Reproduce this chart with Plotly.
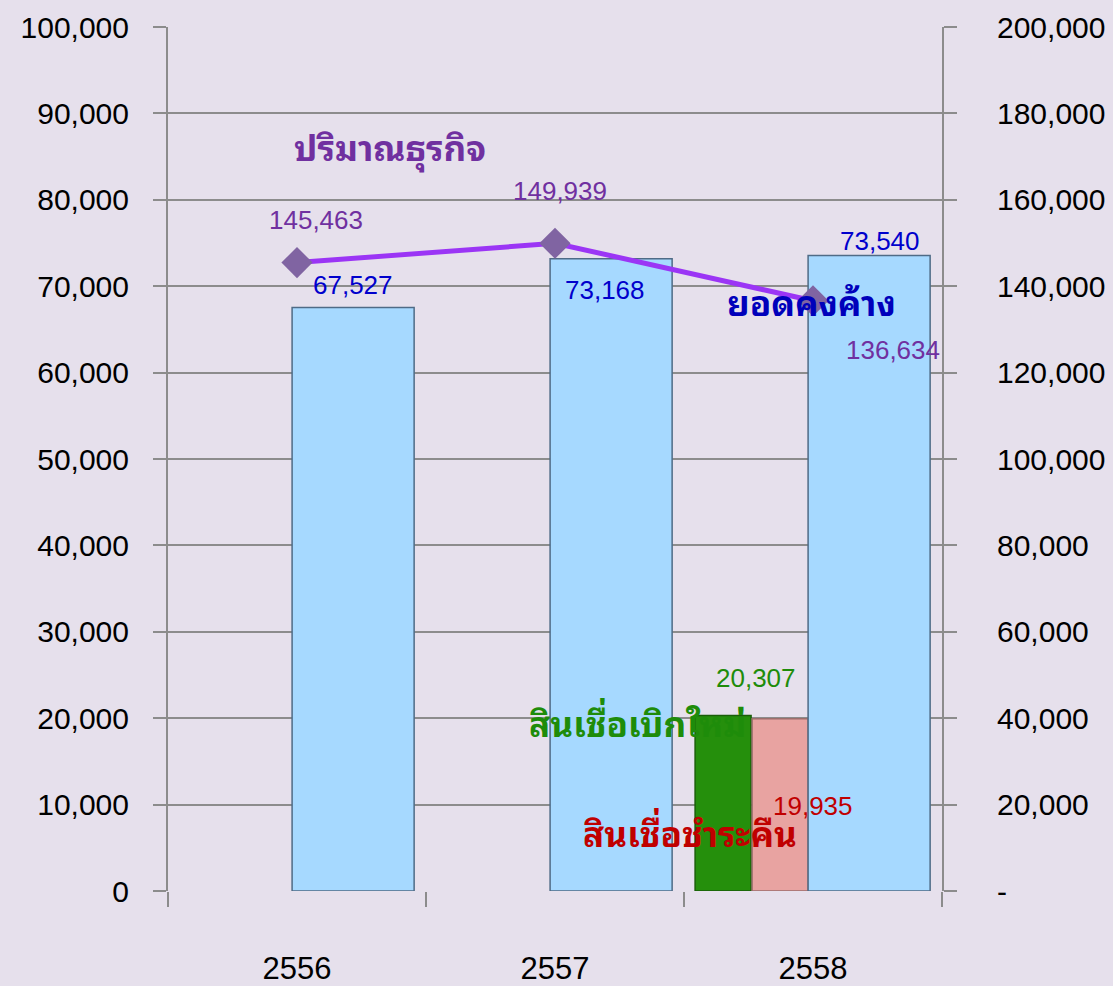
import plotly.graph_objects as go

years = ["2556", "2557", "2558"]
outstanding = [67527, 73168, 73540]          # ยอดคงค้าง (left axis)
new_loans_year = ["2558"]
new_loans = [20307]                          # สินเชื่อเบิกใหม่
repay = [19935]                              # สินเชื่อชำระคืน
volume = [145463, 149939, 136634]            # ปริมาณธุรกิจ (right axis)

left_ticks = list(range(0, 100001, 10000))
right_ticks = list(range(0, 200001, 20000))
right_text = ["-"] + [f"{v:,}" for v in right_ticks[1:]]

BG = "#E6E0EC"
GRID = "#8C8C8C"
FONT = "Liberation Sans, Arial, Noto Sans, sans-serif"
THAI = "Noto Sans Thai Looped, Loma, Garuda, Noto Sans Thai, Tahoma, sans-serif"

fig = go.Figure()

fig.add_trace(go.Bar(x=new_loans_year, y=new_loans, offset=-0.457, width=0.217,
                     marker=dict(color="#258F0C", line=dict(color="#1A5E08", width=1.5)),
                     yaxis="y", hoverinfo="skip"))
fig.add_trace(go.Bar(x=new_loans_year, y=repay, offset=-0.236, width=0.217,
                     marker=dict(color="#E8A3A1", line=dict(color="#9C6E6C", width=1.5)),
                     yaxis="y", hoverinfo="skip"))
fig.add_trace(go.Bar(x=years, y=outstanding, offset=-0.019, width=0.473,
                     marker=dict(color="#A6D9FF", line=dict(color="#4F6B86", width=1.5)),
                     yaxis="y", hoverinfo="skip"))
fig.add_trace(go.Scatter(x=years, y=volume, yaxis="y2", mode="lines+markers",
                         line=dict(color="#9B35F5", width=5),
                         marker=dict(symbol="diamond", size=24, color="#8064A2"),
                         hoverinfo="skip"))

ann = []
idx = {y: i for i, y in enumerate(years)}
blue_shift = [(56, 23), (50, -31), (67, 15)]
for i, (v, (dx, dy)) in enumerate(zip(outstanding, blue_shift)):
    ann.append(dict(x=i, y=v, xref="x", yref="y", text=f"{v:,}", showarrow=False,
                    xanchor="center", yanchor="middle",
                    xshift=dx, yshift=dy, font=dict(size=26, color="#0000CC", family=FONT)))
ann.append(dict(x=idx[new_loans_year[0]], y=new_loans[0], xref="x", yref="y", text=f"{new_loans[0]:,}",
                showarrow=False, xanchor="center", yanchor="middle",
                xshift=-57, yshift=38, font=dict(size=26, color="#1E8C0A", family=FONT)))
ann.append(dict(x=idx[new_loans_year[0]], y=repay[0], xref="x", yref="y", text=f"{repay[0]:,}",
                showarrow=False, xanchor="center", yanchor="middle",
                xshift=0, yshift=-87, font=dict(size=26, color="#C00000", family=FONT)))
line_shift = [(19, 43), (5, 52), (80, -49)]
for i, (v, (dx, dy)) in enumerate(zip(volume, line_shift)):
    ann.append(dict(x=i, y=v, xref="x", yref="y2", text=f"{v:,}", showarrow=False,
                    xanchor="center", yanchor="middle",
                    xshift=dx, yshift=dy, font=dict(size=26, color="#7030A0", family=FONT)))
names = [
    (0.287, 0.864, "ปริมาณธุรกิจ", "#7030A0"),
    (0.832, 0.684, "ยอดคงค้าง", "#0000BB"),
    (0.606, 0.197, "สินเชื่อเบิกใหม่", "#1E8C0A"),
    (0.674, 0.070, "สินเชื่อชำระคืน", "#C00000"),
]
for x, y, t, c in names:
    ann.append(dict(x=x, y=y, xref="paper", yref="paper", text=f"<b>{t}</b>", showarrow=False,
                    xanchor="center", yanchor="middle",
                    font=dict(size=35, color=c, family=THAI)))

fig.update_layout(
    width=1113, height=986,
    margin=dict(l=168, r=171, t=27, b=95),
    paper_bgcolor=BG, plot_bgcolor=BG,
    barmode="overlay", showlegend=False,
    font=dict(family=FONT, size=30, color="black"),
    annotations=ann,
    xaxis=dict(type="category", categoryorder="array", categoryarray=years, automargin=False,
               range=[-0.5, 2.5], tickson="boundaries", ticks="outside", ticklen=15,
               tickcolor=GRID, tickwidth=2, showgrid=False, zeroline=False,
               ticklabelstandoff=56, tickfont=dict(size=31, family=FONT)),
    yaxis=dict(range=[0, 100000], tickvals=left_ticks, ticktext=[f"{v:,}" for v in left_ticks],
               automargin=False,
               showgrid=True, gridcolor=GRID, gridwidth=2, zeroline=False,
               ticks="outside", ticklen=13, tickcolor=GRID, tickwidth=2,
               showline=True, linecolor=GRID, linewidth=2, ticklabelstandoff=18,
               tickfont=dict(size=30, family=FONT)),
    yaxis2=dict(range=[0, 200000], overlaying="y", side="right", tickvals=right_ticks,
                automargin=False,
                ticktext=right_text, showgrid=False, zeroline=False,
                ticks="outside", ticklen=13, tickcolor=GRID, tickwidth=2,
                showline=True, linecolor=GRID, linewidth=2, ticklabelstandoff=34,
                tickfont=dict(size=30, family=FONT)),
)

fig.write_html("out.html", config={"displayModeBar": False},
               post_script="document.body.style.margin='0';document.body.style.overflow='hidden';"
                           "document.body.style.background='#E6E0EC';")
